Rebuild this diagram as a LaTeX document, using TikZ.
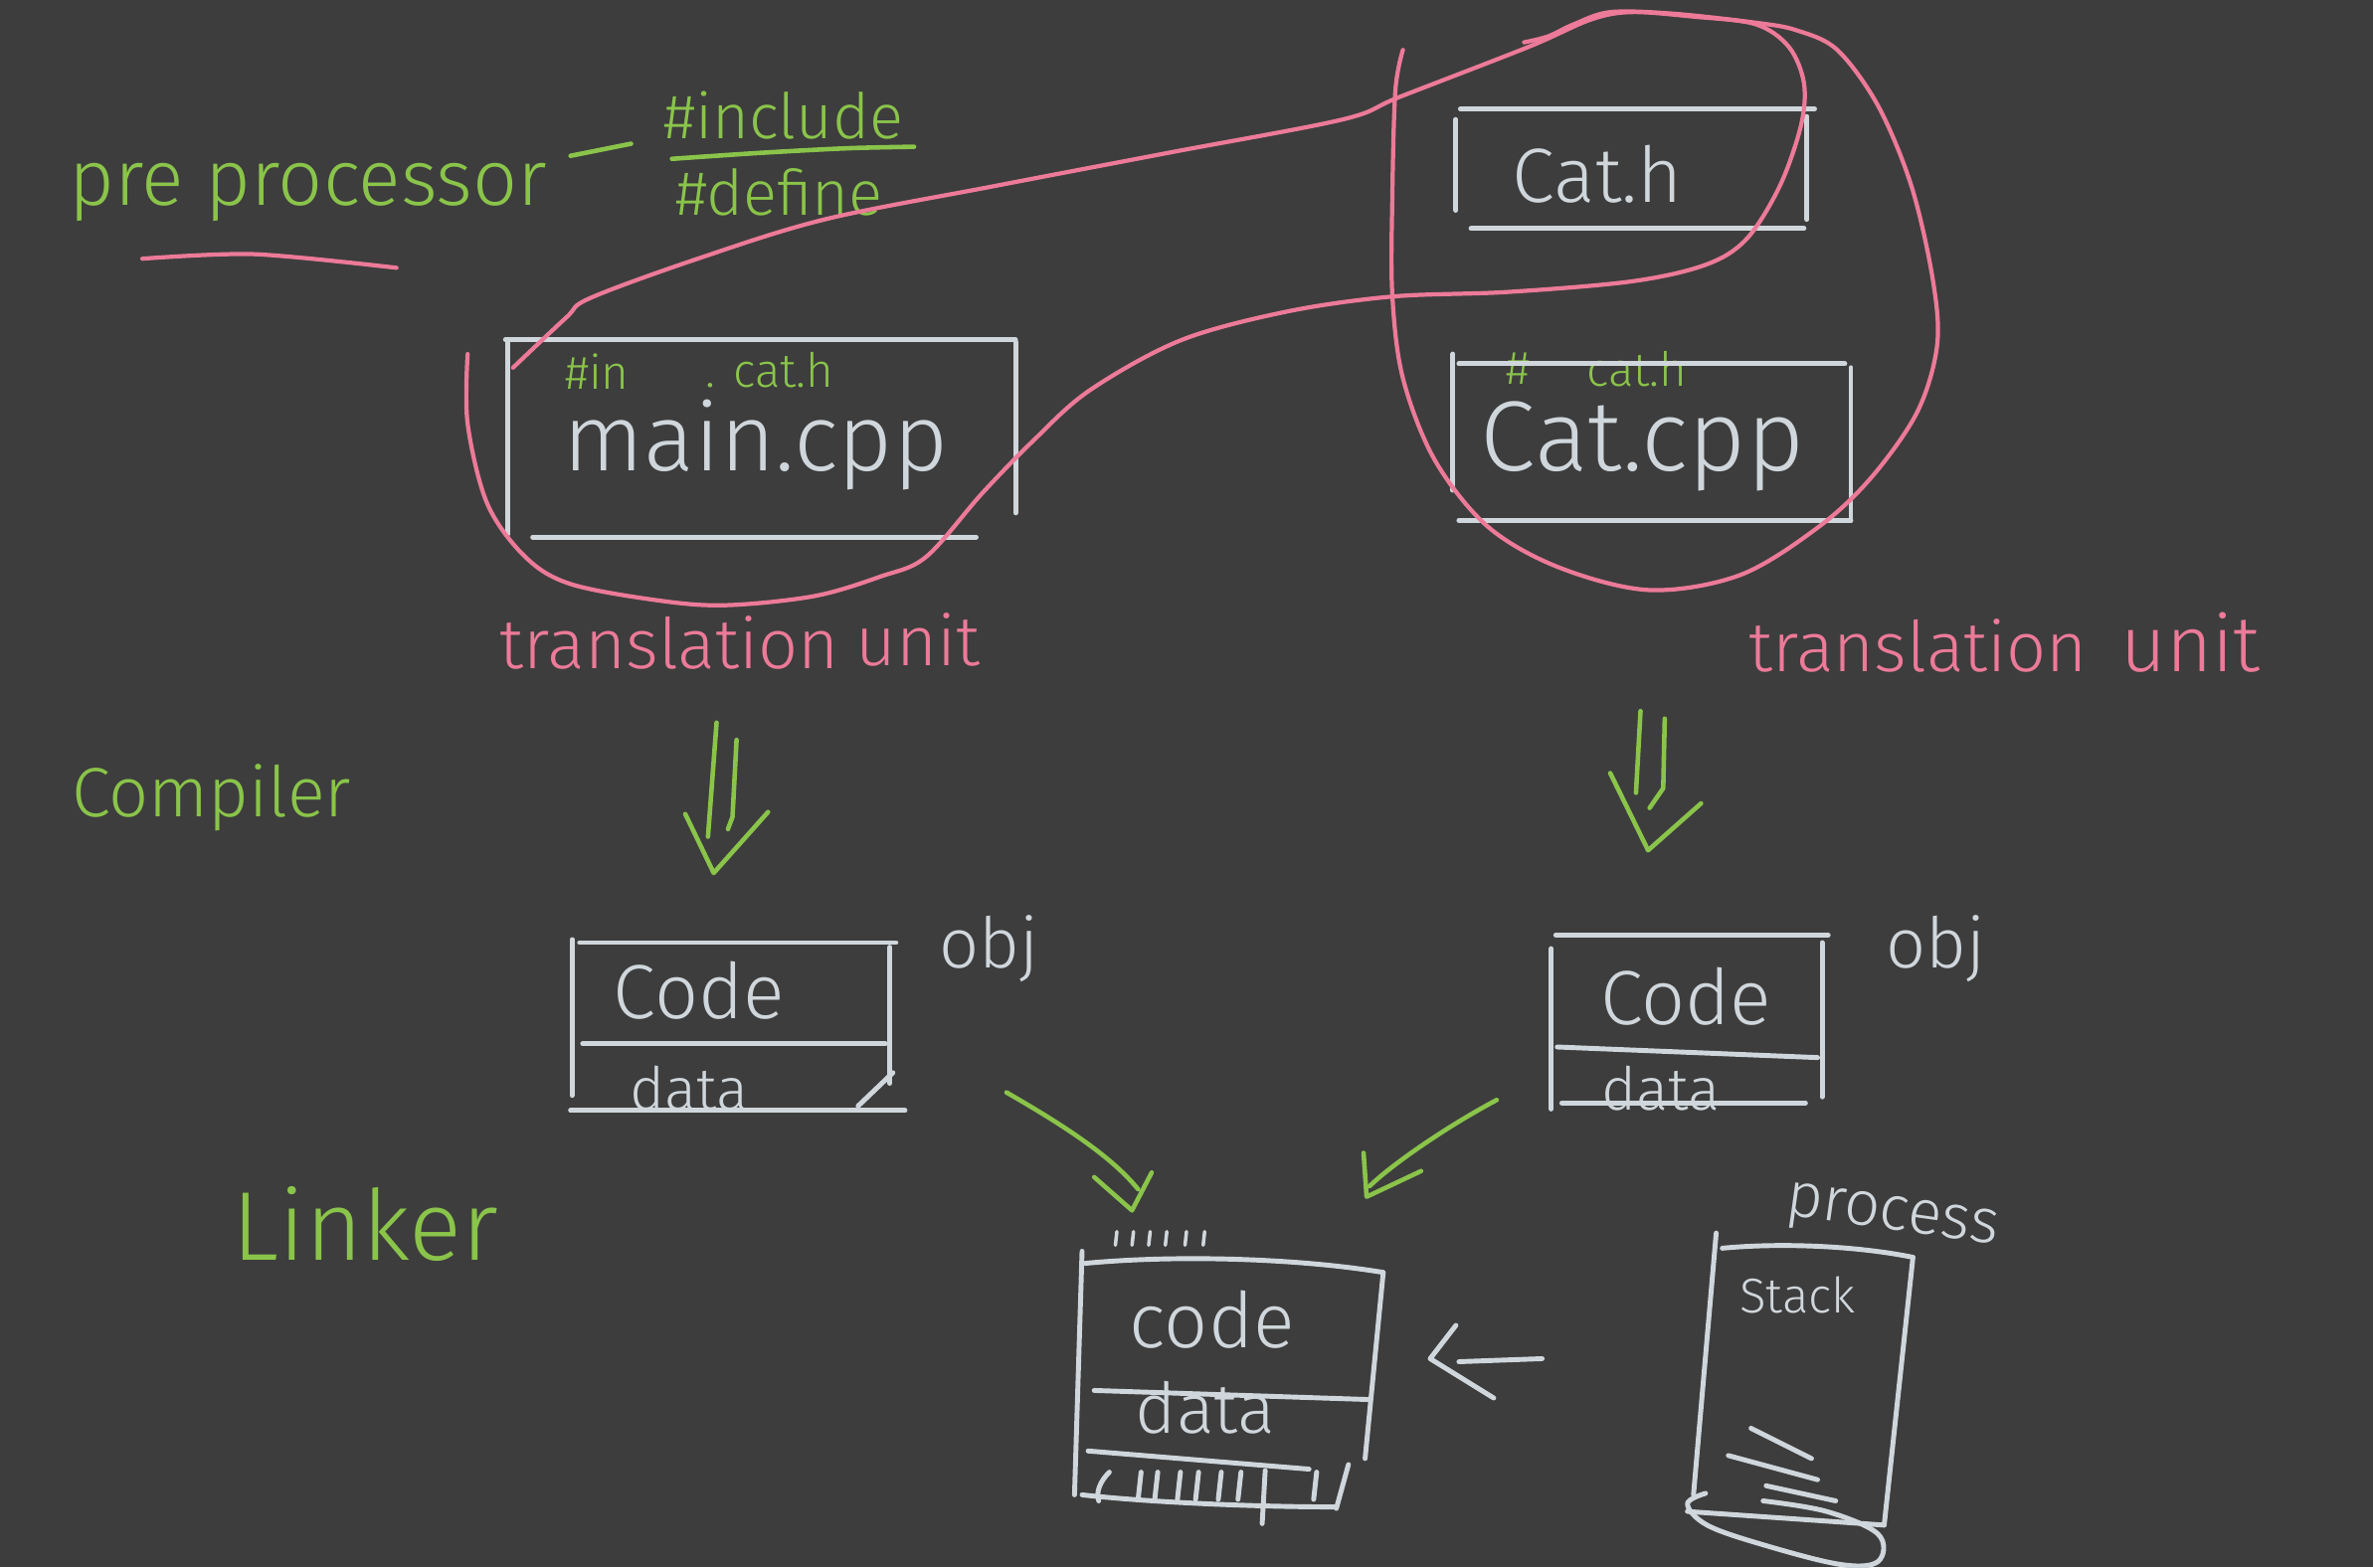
\documentclass[tikz,border=0pt]{standalone}
\usepackage{fontspec}
\setmainfont{Fira Sans Light}
\definecolor{bg}{RGB}{61,61,61}
\definecolor{chalk}{RGB}{208,215,220}
\definecolor{lime}{RGB}{138,196,74}
\definecolor{rose}{RGB}{236,122,152}
\newcommand\myfs[1]{\fontsize{#1}{#1}\selectfont}
\begin{document}
\begin{tikzpicture}[x=0.015217cm,y=-0.015217cm,
  wl/.style={draw=chalk,line width=1.4pt,line cap=round,line join=round},
  gl/.style={draw=lime,line width=1.3pt,line cap=round,line join=round},
  pl/.style={draw=rose,line width=1.2pt,line cap=round,line join=round},
  txt/.style={inner sep=0pt,anchor=base west},
  wt/.style={txt,text=chalk},
  gt/.style={txt,text=lime},
  ptxt/.style={txt,text=rose}]
\fill[bg] (0,0) rectangle (1568,1036);
\useasboundingbox (0,0) rectangle (1568,1036);

% ---------- texts ----------
\node[gt,font=\myfs{22.5}] (pre) at (45,136) {pre processor};
\node[gt,font=\myfs{18}] (incl) at (438,92) {\#include};
\node[gt,font=\myfs{18}] (defn) at (446,142) {\#define};
\node[wt,font=\myfs{27}] (maincpp) at (372,311) {main.cpp};
\node[gt,font=\myfs{13.5}] (inca) at (373,257) {\#in};
\node[gt,font=\myfs{13.5}] (incb) at (466,256) {. cat.h};
\node[wt,font=\myfs{22}] (cath) at (999,134) {Cat.h};
\node[wt,font=\myfs{28.5}] (catcpp) at (978,311) {Cat.cpp};
\node[gt,font=\myfs{13.5}] (incc) at (995,254) {\#};
\node[gt,font=\myfs{13.5}] (incd) at (1048,255) {cat.h};
\node[ptxt,font=\myfs{20}] (tuaa) at (330,442) {translation};
\node[ptxt,font=\myfs{20}] (tuab) at (565,440) {unit};
\node[ptxt,font=\myfs{20}] (tuba) at (1155,444) {translation};
\node[ptxt,font=\myfs{22.5}] (tubb) at (1401,444) {unit};
\node[gt,font=\myfs{20}] (comp) at (47,540) {Compiler};
\node[gt,font=\myfs{28}] (link) at (153,833) {Linker};
\node[wt,font=\myfs{22}] (codea) at (405,673) {Code};
\node[wt,font=\myfs{17}] (dataa) at (416,734) {data};
\node[wt,font=\myfs{20}] (obja) at (620,640) {obj};
\node[wt,font=\myfs{22}] (codeb) at (1057,677) {Code};
\node[wt,font=\myfs{17}] (datab) at (1058,734) {data};
\node[wt,font=\myfs{20}] (objb) at (1246,640) {obj};
\node[wt,font=\myfs{22}] (codec) at (746,891) {code};
\node[wt,font=\myfs{20}] (datac) at (750,947) {data};
\node[wt,font=\myfs{14}] (stack) at (1149,868) {Stack};
\node[wt,font=\myfs{18},rotate=-8,anchor=center] (proc) at (1250,806) {process};

% ---------- green marks near the title ----------
\draw[pl] plot[smooth] coordinates {(94,171) (168,168) (262,177)};
\draw[gl] (377,103) -- (417,95);
\draw[gl] plot[smooth] coordinates {(444,105) (503,101) (560,98) (604,97)};

% ---------- source boxes ----------
\draw[wl] (334,224.5) -- (671,224.5);
\draw[wl] (335.6,226) -- (335.6,353);
\draw[wl] (671,226) -- (671,339);
\draw[wl] (352,355) -- (645,355);

\draw[wl] (965,72) -- (1199,72);
\draw[wl] (962,79) -- (962,139);
\draw[wl] (1194,77) -- (1194,145);
\draw[wl] (972,151) -- (1192,151);

\draw[wl] (960,234) -- (960,324);
\draw[wl] (964,240.5) -- (1219,240.5);
\draw[wl] (1223,243) -- (1223,344);
\draw[wl] (964,344) -- (1223,344);

% ---------- pink loops ----------
\draw[pl] plot[smooth,tension=0.55] coordinates {(309,234) (309,280) (322,333) (347,368) (377,386) (436,397) (480,400) (538,394) (582,381) (612,368) (649,326) (683,291) (720,258) (780,225) (850,206) (920,196) (996,193) (1078,186) (1127,175) (1154,158) (1176,123) (1190,83) (1192,55) (1182,31) (1160,16) (1119,11) (1078,8) (1051,13) (1010,31) (925,64) (887,79) (772,101) (657,123) (545,145) (461,171) (390,197) (374,210) (339,243)};
\draw[pl] plot[smooth,tension=0.55] coordinates {(927,33) (922,60) (920,130) (920,195) (927,250) (948,304) (983,348) (1030,375) (1090,390) (1150,380) (1202,348) (1237,315) (1267,272) (1280,228) (1277,184) (1263,123) (1241,70) (1214,33) (1187,20) (1160,15) (1105,9) (1064,8) (1040,16) (1023,24) (1007,28)};

% ---------- compiler arrows ----------
\coordinate (caa) at (473.5,477.6); \coordinate (cab) at (467.8,553);
\coordinate (cac) at (486.7,489);   \coordinate (cad) at (481,548);
\coordinate (cat) at (471.6,577);
\draw[gl] (caa) -- (cab);
\draw[gl] (cac) -- (484,540) -- (cad);
\draw[gl] (452.8,538) -- (cat) -- (507.5,536.7);

\coordinate (cba) at (1084,470); \coordinate (cbb) at (1081,524);
\coordinate (cbc) at (1100,475); \coordinate (cbd) at (1090,534);
\coordinate (cbt) at (1089,562);
\draw[gl] (cba) -- (cbb);
\draw[gl] (cbc) -- (1099,521) -- (cbd);
\draw[gl] (1064,511) -- (cbt) -- (1124,531);

% ---------- object boxes ----------
\draw[wl] (383,623) -- (592,623);
\draw[wl] (378,621) -- (378,724);
\draw[wl] (588,626) -- (588,716);
\draw[wl] (385,690) -- (585,690);
\draw[wl] (377,734) -- (598,734);
\draw[wl] (567,731) -- (590,709);

\draw[wl] (1028,618) -- (1208,618);
\draw[wl] (1025,627) -- (1025,733);
\draw[wl] (1204,623) -- (1204,725);
\draw[wl] (1029,692) -- (1201,699);
\draw[wl] (1032,729) -- (1193,729);

% ---------- linker arrows ----------
\coordinate (laa) at (665,722); \coordinate (lat) at (748,800);
\draw[gl] (laa) .. controls (705,745) and (735,765) .. (752,786);
\draw[gl] (723,778) -- (lat) -- (761,775);
\coordinate (lba) at (989,727); \coordinate (lbt) at (903,791);
\draw[gl] (lba) .. controls (955,745) and (918,771) .. (905,784);
\draw[gl] (901,762) -- (lbt) -- (939,774);

% ---------- executable box ----------
\draw[wl] (717,835) .. controls (780,829) and (860,832) .. (914,841);
\draw[wl] (715,827) -- (710,988);
\draw[wl] (914,841) -- (902,964);
\draw[wl] (891,968) -- (883,997);
\draw[wl] (723,919) -- (904,925);
\draw[wl] (719,959) -- (865,971);
\draw[wl] (715,988) .. controls (760,993) and (830,996) .. (883,996);
\draw[wl] (733,973) .. controls (727,979) and (724,986) .. (726,992);
\foreach \hx in {752,763,778,790,805,818,868}
  \draw[wl] (\hx+2,973) -- (\hx,991);
\draw[wl] (836,972) -- (834,1007);
\foreach \tx in {737,748,759,770,783,795}
  \draw[wl,line width=1pt] (\tx+1,814) -- (\tx,823);

% ---------- arrow from process ----------
\coordinate (pa) at (1019,898); \coordinate (pt) at (945,898);
\draw[wl] (pa) -- (964,900);
\draw[wl] (962,876) -- (pt) -- (987,924);

% ---------- process box ----------
\draw[wl] (1134,815) -- (1119,988);
\draw[wl] (1138,825) .. controls (1180,821) and (1230,824) .. (1264,831);
\draw[wl] (1264,831) -- (1245,1008);
\draw[wl] (1115,999) -- (1245,1008);
\draw[wl] (1157,944) -- (1197,964);
\draw[wl] (1142,962) -- (1201,978);
\draw[wl] (1167,982) -- (1213,992);
\draw[wl] plot[smooth,tension=0.6] coordinates {(1127,987) (1115,994) (1128,1008) (1165,1021) (1216,1034) (1241,1032) (1241,1014) (1207,999) (1165,992)};
\end{tikzpicture}
\end{document}
